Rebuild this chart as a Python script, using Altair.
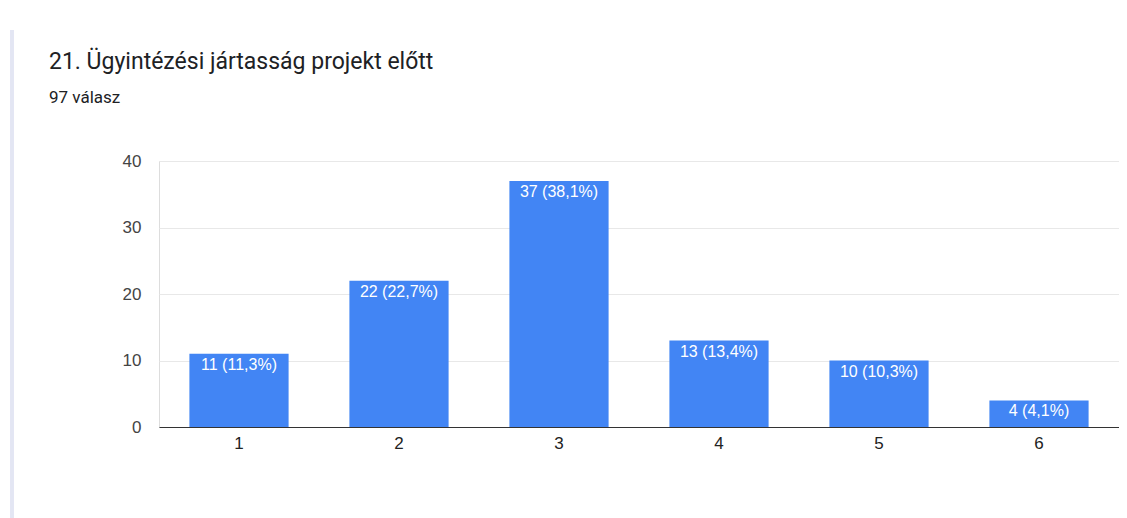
import altair as alt
import pandas as pd

categories = ["1", "2", "3", "4", "5", "6"]
counts = [11, 22, 37, 13, 10, 4]
percents = ["11,3%", "22,7%", "38,1%", "13,4%", "10,3%", "4,1%"]

df = pd.DataFrame({
    "cat": categories,
    "count": counts,
    "label": [f"{c} ({p})" for c, p in zip(counts, percents)],
})

x_enc = alt.X("cat:N", sort=categories, title=None,
              scale=alt.Scale(paddingInner=0.38, paddingOuter=0.19),
              axis=alt.Axis(labelAngle=0, ticks=False, domainColor="#333333",
                            domainWidth=1, labelFont="Liberation Sans",
                            labelFontSize=17, labelColor="#222222",
                            labelPadding=8, grid=False))
y_enc = alt.Y("count:Q", title=None,
              scale=alt.Scale(domain=[0, 40], nice=False),
              axis=alt.Axis(values=[0, 5, 10, 15, 20, 25, 30, 35, 40],
                            labelExpr="datum.value % 10 === 0 ? datum.label : ''",
                            ticks=False, domain=False,
                            gridColor=alt.condition("datum.value % 10 === 0",
                                                    alt.value("#e8e8e8"),
                                                    alt.value("#f4f4f4")),
                            labelFont="Liberation Sans", labelFontSize=17,
                            labelColor="#444444", labelPadding=18))

bars = alt.Chart(df).mark_bar(color="#4285f4").encode(x=x_enc, y=y_enc)

labels = alt.Chart(df).mark_text(color="white", baseline="top", dy=3,
                                 font="Liberation Sans", fontSize=16).encode(
    x=alt.X("cat:N", sort=categories),
    y="count:Q",
    text="label:N",
)

border = alt.Chart(df).mark_rule(color="#e3e6f3", strokeWidth=3).encode(
    x=alt.value(-147), y=alt.value(-131), y2=alt.value(357)
)

chart = alt.layer(bars, labels, border).properties(
    width=960,
    height=266,
    padding={"left": 151, "top": 153, "right": 0, "bottom": 91},
    autosize=alt.AutoSizeParams(type="none"),
    title=alt.TitleParams(
        text="21. Ügyintézési jártasság projekt előtt",
        subtitle="97 válasz",
        anchor="start",
        frame="group",
        dx=-110,
        offset=-77,
        font="Roboto",
        fontSize=23,
        fontWeight="normal",
        color="#202124",
        subtitleFont="Roboto",
        subtitleFontSize=17,
        subtitleColor="#202124",
        subtitlePadding=16,
    ),
).configure_view(stroke=None).configure(background="white")

chart.save("out.html", embed_options={"renderer": "svg", "actions": False})
